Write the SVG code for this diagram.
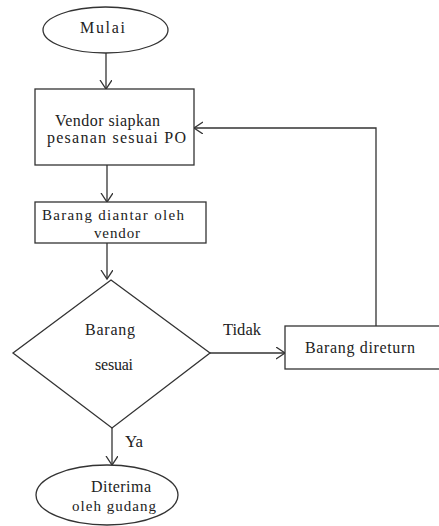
<svg xmlns="http://www.w3.org/2000/svg" width="439" height="526" viewBox="0 0 439 526">
<style>
.shape{fill:#fff;stroke:#333;stroke-width:1.3}
.conn{fill:none;stroke:#333;stroke-width:1.3}
text{font-family:"Liberation Serif","DejaVu Serif","Times New Roman",serif;font-size:16px;fill:#222}
.sm{font-size:15px}
</style>
<defs>
<marker id="arr" markerUnits="userSpaceOnUse" markerWidth="12" markerHeight="14" refX="9" refY="6" orient="auto">
<path d="M0,0 L9,6 L0,12" fill="none" stroke="#333" stroke-width="1.3"/>
</marker>
</defs>
<rect width="439" height="526" fill="#fff"/>
<g id="connectors">
<line class="conn" x1="106" y1="53" x2="106" y2="89" marker-end="url(#arr)"/>
<line class="conn" x1="107" y1="165" x2="107" y2="202" marker-end="url(#arr)"/>
<line class="conn" x1="107" y1="243" x2="107" y2="279" marker-end="url(#arr)"/>
<line class="conn" x1="210" y1="353" x2="285" y2="353" marker-end="url(#arr)"/>
<polyline class="conn" points="376,326 376,128 194,128" marker-end="url(#arr)"/>
<line class="conn" x1="112" y1="428" x2="112" y2="465" marker-end="url(#arr)"/>
<text x="223" y="335" textLength="38" lengthAdjust="spacingAndGlyphs">Tidak</text>
<text x="125" y="447" textLength="18" lengthAdjust="spacingAndGlyphs">Ya</text>
</g>
<g id="mulai">
<ellipse class="shape" cx="105.5" cy="30" rx="62.5" ry="23"/>
<text x="80" y="33" textLength="45" lengthAdjust="spacing">Mulai</text>
</g>
<g id="vendor-siapkan">
<rect class="shape" x="35" y="89" width="159" height="76"/>
<text x="55" y="126" textLength="105" lengthAdjust="spacing">Vendor siapkan</text>
<text x="47" y="143" textLength="139" lengthAdjust="spacing">pesanan sesuai PO</text>
</g>
<g id="barang-diantar">
<rect class="shape" x="35" y="202" width="171" height="41"/>
<text class="sm" x="42" y="220" textLength="142" lengthAdjust="spacing">Barang diantar oleh</text>
<text class="sm" x="94" y="238" textLength="46" lengthAdjust="spacing">vendor</text>
</g>
<g id="barang-sesuai">
<polygon class="shape" points="111,280 210,353 112,428 13,353"/>
<text x="85" y="335" textLength="50" lengthAdjust="spacing">Barang</text>
<text x="95" y="370" textLength="38" lengthAdjust="spacing">sesuai</text>
</g>
<g id="barang-direturn">
<rect class="shape" x="285" y="326" width="170" height="43"/>
<text x="305" y="353" textLength="110" lengthAdjust="spacing">Barang direturn</text>
</g>
<g id="diterima">
<ellipse class="shape" cx="107" cy="495" rx="71" ry="30"/>
<text x="91" y="492" textLength="60" lengthAdjust="spacing">Diterima</text>
<text class="sm" x="72" y="511" textLength="84" lengthAdjust="spacing">oleh gudang</text>
</g>
</svg>
